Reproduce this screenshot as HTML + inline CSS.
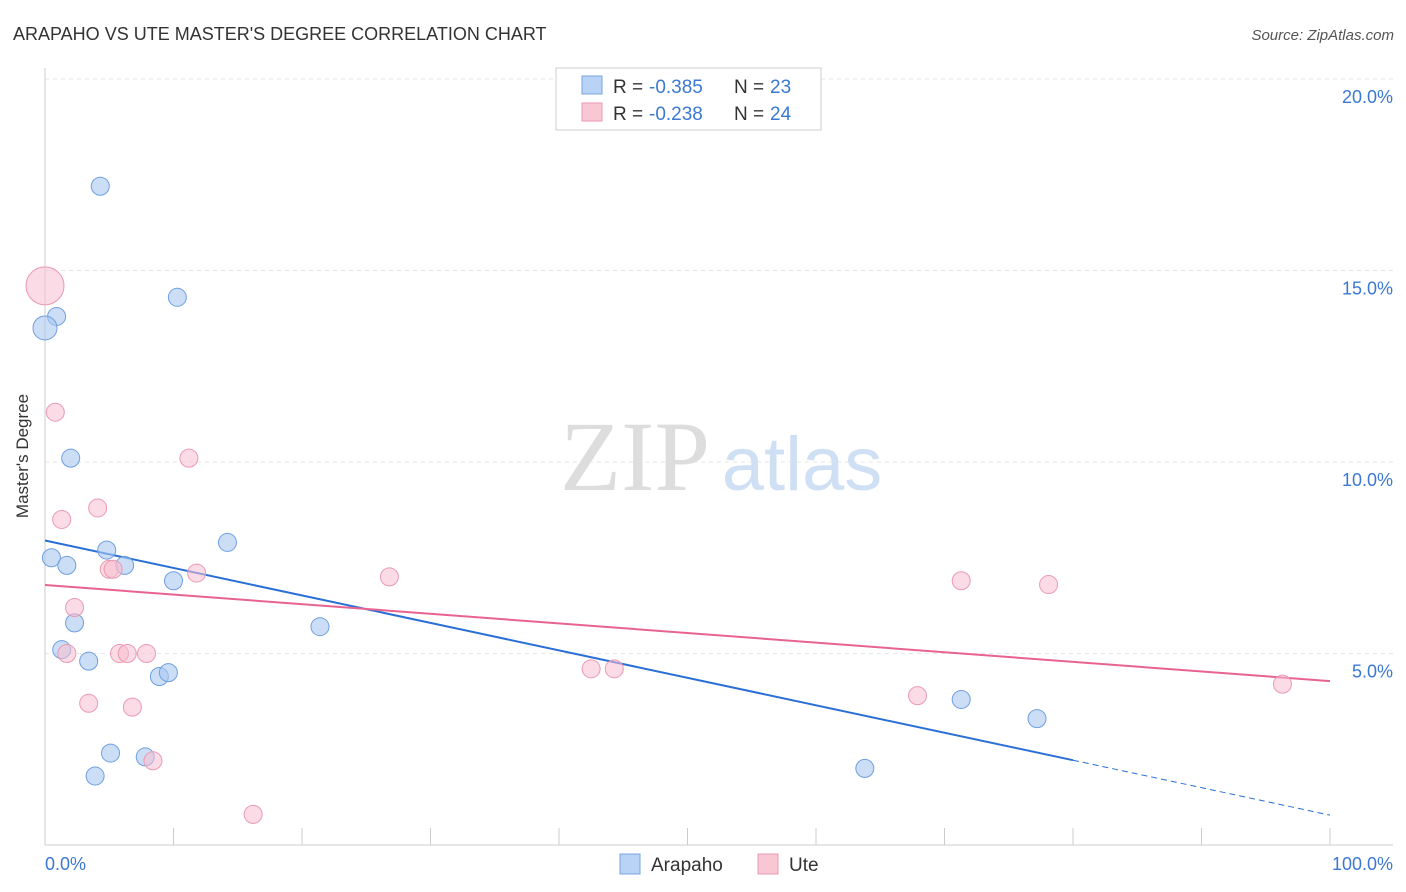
<!DOCTYPE html>
<html><head><meta charset="utf-8"><style>
body{margin:0;background:#fff;font-family:"Liberation Sans",sans-serif;}
svg{display:block}
</style></head><body>
<svg width="1406" height="892">
<text x="13" y="40" font-size="18" fill="#333">ARAPAHO VS UTE MASTER'S DEGREE CORRELATION CHART</text>
<text x="1394" y="40" font-size="15" fill="#555" font-style="italic" text-anchor="end">Source: ZipAtlas.com</text>
<g id="grid"></g>
<text x="635" y="490" font-size="100" fill="#ddd" font-family="Liberation Serif,serif" text-anchor="middle">ZIP</text>
<text x="802" y="490" font-size="76" fill="#cfe0f5" text-anchor="middle">atlas</text>
<line x1="45" y1="68" x2="45" y2="845" stroke="#ccc"/>
<line x1="45" y1="845" x2="1393" y2="845" stroke="#ccc"/>
<g id="ticks"></g>
<text x="28" y="456" font-size="17" fill="#333" text-anchor="middle" transform="rotate(-90 28 456)">Master's Degree</text>
<text x="45" y="870" font-size="18" fill="#3b78d4">0.0%</text>
<text x="1393" y="870" font-size="18" fill="#3b78d4" text-anchor="end">100.0%</text>
<g id="lines"></g>
<g id="points"></g>
<g>
<rect x="556" y="68" width="265" height="62" fill="#fff" stroke="#ccc"/>
<rect x="582" y="76" width="20" height="18" fill="#b8d3f5" stroke="#7aa6e0"/>
<rect x="582" y="103" width="20" height="18" fill="#f9c6d4" stroke="#ea9ab2"/>
<text x="613" y="93" font-size="19" fill="#333">R =</text>
<text x="649" y="93" font-size="19" fill="#3b78d4">-0.385</text>
<text x="734" y="93" font-size="19" fill="#333">N =</text>
<text x="770" y="93" font-size="19" fill="#3b78d4">23</text>
<text x="613" y="120" font-size="19" fill="#333">R =</text>
<text x="649" y="120" font-size="19" fill="#3b78d4">-0.238</text>
<text x="734" y="120" font-size="19" fill="#333">N =</text>
<text x="770" y="120" font-size="19" fill="#3b78d4">24</text>
</g>
<g>
<rect x="620" y="854" width="20" height="20" fill="#b8d3f5" stroke="#7aa6e0"/>
<text x="651" y="871" font-size="19" fill="#333">Arapaho</text>
<rect x="758" y="854" width="20" height="20" fill="#f9c6d4" stroke="#ea9ab2"/>
<text x="789" y="871" font-size="19" fill="#333">Ute</text>
</g>
</svg>
<script>
const yTicks=[5,10,15,20];
const yTickLabels=["5.0%","10.0%","15.0%","20.0%"];
const arapahoX=[4.3,10.3,0.9,0,2.0,0.5,1.7,4.8,6.2,14.2,10.0,2.3,1.3,3.4,8.9,9.6,21.4,5.1,7.8,3.9,63.8,71.3,77.2];
const arapahoY=[17.2,14.3,13.8,13.5,10.1,7.5,7.3,7.7,7.3,7.9,6.9,5.8,5.1,4.8,4.4,4.5,5.7,2.4,2.3,1.8,2.0,3.8,3.3];
const uteX=[0,0.8,11.2,1.3,4.1,5.0,5.3,11.8,26.8,2.3,1.7,5.8,6.4,7.9,42.5,44.3,3.4,6.8,8.4,16.2,67.9,71.3,78.1,96.3];
const uteY=[14.6,11.3,10.1,8.5,8.8,7.2,7.2,7.1,7.0,6.2,5.0,5.0,5.0,5.0,4.6,4.6,3.7,3.6,2.2,0.8,3.9,6.9,6.8,4.2];
const arapahoTrend=[7.95,0.78];
const uteTrend=[6.79,4.28];
const X=v=>45+v*12.85, Y=v=>845-v*38.3;
const NS="http://www.w3.org/2000/svg";
function mk(t,a,p){const e=document.createElementNS(NS,t);for(const k in a)e.setAttribute(k,a[k]);p.appendChild(e);return e;}
const grid=document.getElementById('grid');
yTicks.forEach((t,i)=>{
 const l=mk('line',{x1:45,x2:1393,y1:Y(t),y2:Y(t),stroke:'#e6e6e6','stroke-dasharray':'4,4'},grid);
 
 
 const tx=mk('text',{x:1393,y:Y(t)+24,'font-size':18,fill:'#3b78d4','text-anchor':'end'},grid);
 tx.textContent=yTickLabels[i];
 
 
});
const ticks=document.getElementById('ticks');
for(let i=1;i<=10;i++){
 const l=mk('line',{x1:X(i*10),x2:X(i*10),y1:828,y2:845,stroke:'#ccc'},ticks);
 
 
}
const lines=document.getElementById('lines');
function ty(tr,x){return tr[0]+(tr[1]-tr[0])*x/100;}
let l=mk('line',{x1:X(0),y1:Y(ty(arapahoTrend,0)),x2:X(80),y2:Y(ty(arapahoTrend,80)),stroke:'#2a6fd6','stroke-width':2},lines);


l=mk('line',{x1:X(80),y1:Y(ty(arapahoTrend,80)),x2:X(100),y2:Y(ty(arapahoTrend,100)),stroke:'#2a6fd6','stroke-width':1,'stroke-dasharray':'6,4'},lines);


l=mk('line',{x1:X(0),y1:Y(ty(uteTrend,0)),x2:X(100),y2:Y(ty(uteTrend,100)),stroke:'#e8638f','stroke-width':2},lines);


const pts=document.getElementById('points');
arapahoX.forEach((x,i)=>{
 const c=mk('circle',{cx:X(x),cy:Y(arapahoY[i]),r:(x===0?12:9),fill:'rgba(170,200,240,0.6)',stroke:'#6e9fe0','stroke-width':1},pts);
 
 
});
uteX.forEach((x,i)=>{
 const c=mk('circle',{cx:X(x),cy:Y(uteY[i]),r:(x===0?19:9),fill:'rgba(248,190,208,0.55)',stroke:'#ea9ab2','stroke-width':1},pts);
 
 
});
</script>
</body></html>
